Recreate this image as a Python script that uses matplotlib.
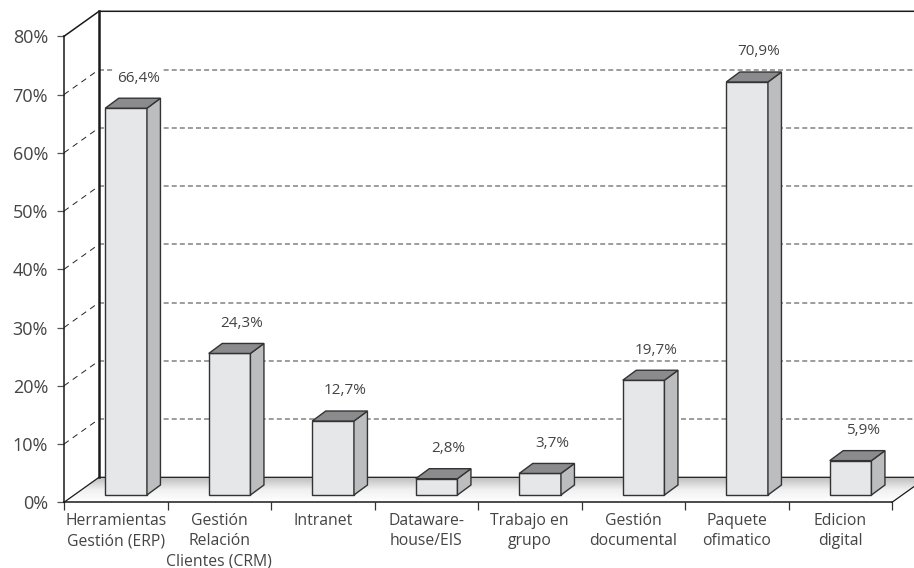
import numpy as np
import matplotlib
matplotlib.use("Agg")
from matplotlib import pyplot as plt
from matplotlib.patches import Polygon

categories = ["Herramientas\nGestión (ERP)", "Gestión\nRelación\nClientes (CRM)", "Intranet",
              "Dataware-\nhouse/EIS", "Trabajo en\ngrupo", "Gestión\ndocumental",
              "Paquete\nofimatico", "Edicion\ndigital"]
values = [66.4, 24.3, 12.7, 2.8, 3.7, 19.7, 70.9, 5.9]
value_labels = ["66,4%", "24,3%", "12,7%", "2,8%", "3,7%", "19,7%", "70,9%", "5,9%"]
y_ticks = [0, 10, 20, 30, 40, 50, 60, 70, 80]

# pixel scale of the reference: one category = 103.5 px, 1% = 5.825 px
px_x = 103.5
px_y = 5.825
x0 = 64
y0 = 502.3
wall_dx = 35 / px_x
wall_dy = 25 / px_y
bar_base = 7.3 / px_y
bar_w = 41.7 / px_x
bar_dx = 13.5 / px_x
bar_dy = 10 / px_y
right_end = 8 + wall_dx

plt.rcParams['font.family'] = ['Open Sans', 'DejaVu Sans']
text_color = '#444444'

fig = plt.figure(figsize=(9.14, 5.68), dpi=100)
ax = fig.add_axes([0, 0, 1, 1])
ax.patch.set_visible(False)

# floor with gradient
floor = Polygon([(0, 0), (8, 0), (right_end, wall_dy), (wall_dx, wall_dy)], closed=True,
                facecolor='none', edgecolor='none', transform=ax.transData)
ax.add_patch(floor)
grad = np.linspace(0, 1, 64).reshape(-1, 1)
floor_cmap = matplotlib.colors.LinearSegmentedColormap.from_list('f', ['#ffffff', '#f0f0f0', '#bdbdbd'])
im = ax.imshow(grad, cmap=floor_cmap, extent=[0, right_end, 0, wall_dy], origin='lower', aspect='auto', zorder=1)
im.set_clip_path(floor)

# back wall grid and side wall dashes
for t in y_ticks[1:-1]:
    ax.plot([wall_dx, right_end], [t + wall_dy, t + wall_dy], color='#8c8c8c', lw=1.2,
            dashes=(3, 1.85), zorder=2)
    ax.plot([0, wall_dx], [t, t + wall_dy], color='#222222', lw=0.7, dashes=(6, 5), zorder=2)

# walls
ax.plot([0, wall_dx, right_end], [80, 80 + wall_dy, 80 + wall_dy], color='#1a1a1a', lw=1.1, zorder=3)
ax.plot([wall_dx, wall_dx], [wall_dy, 80 + wall_dy], color='#1a1a1a', lw=1.8, zorder=3)
ax.plot([0, wall_dx, right_end], [0, wall_dy, wall_dy], color='#1a1a1a', lw=0.9, zorder=3)
ax.plot([8, right_end], [0, wall_dy], color='#1a1a1a', lw=0.9, zorder=3)

# bars
pos = np.arange(len(values)) + 0.6
ax.bar(pos, values, width=bar_w, bottom=bar_base, color='#e6e7e9', edgecolor='#333333', lw=1.0, zorder=5)
for p, v in zip(pos, values):
    l = p - bar_w / 2
    r = p + bar_w / 2
    t = bar_base + v
    ax.add_patch(Polygon([(r, bar_base), (r + bar_dx, bar_base + bar_dy), (r + bar_dx, t + bar_dy), (r, t)],
                         closed=True, facecolor='#bcbdbf', edgecolor='#333333', lw=1.0, zorder=5))
    ax.add_patch(Polygon([(l, t), (r, t), (r + bar_dx, t + bar_dy), (l + bar_dx, t + bar_dy)],
                         closed=True, facecolor='#8b8b8d', edgecolor='#333333', lw=1.0, zorder=5))

# value labels
for p, v, s in zip(pos, values, value_labels):
    ax.annotate(s, (p + 12 / px_x, bar_base + v + bar_dy), xytext=(0, 14.5), textcoords='offset points',
                ha='center', va='center', fontsize=11, color=text_color, zorder=6,
                bbox=dict(facecolor='white', edgecolor='none', pad=1.5))

# axes
ax.set_xlim(-x0 / px_x, (914 - x0) / px_x)
ax.set_ylim((y0 - 568) / px_y, y0 / px_y)
for s in ['top', 'right']:
    ax.spines[s].set_visible(False)
ax.spines['left'].set_position(('data', 0))
ax.spines['bottom'].set_position(('data', 0))
ax.spines['left'].set_bounds(0, 80)
ax.spines['bottom'].set_bounds(0, 8)
ax.spines['left'].set_linewidth(1.1)
ax.spines['bottom'].set_linewidth(1.1)
ax.spines['left'].set_color('#1a1a1a')
ax.spines['bottom'].set_color('#1a1a1a')
for s in ax.spines.values():
    s.set_zorder(7)

ax.set_yticks(y_ticks)
ax.set_yticklabels([str(t) + "%" for t in y_ticks])
ax.tick_params(axis='y', length=5, width=0.9, color='#555555', labelsize=13, labelcolor=text_color, pad=6.5)
ax.set_xticks(np.arange(9))
ax.set_xticklabels([])
ax.set_xticks(np.arange(8) + 0.5, minor=True)
ax.set_xticklabels(categories, minor=True, linespacing=1.37)
ax.tick_params(axis='x', which='major', length=6, width=0.9, color='#333333')
ax.tick_params(axis='x', which='minor', length=0, labelsize=11.3, labelcolor=text_color, pad=7.5)

fig.savefig("out.png", dpi=100)
